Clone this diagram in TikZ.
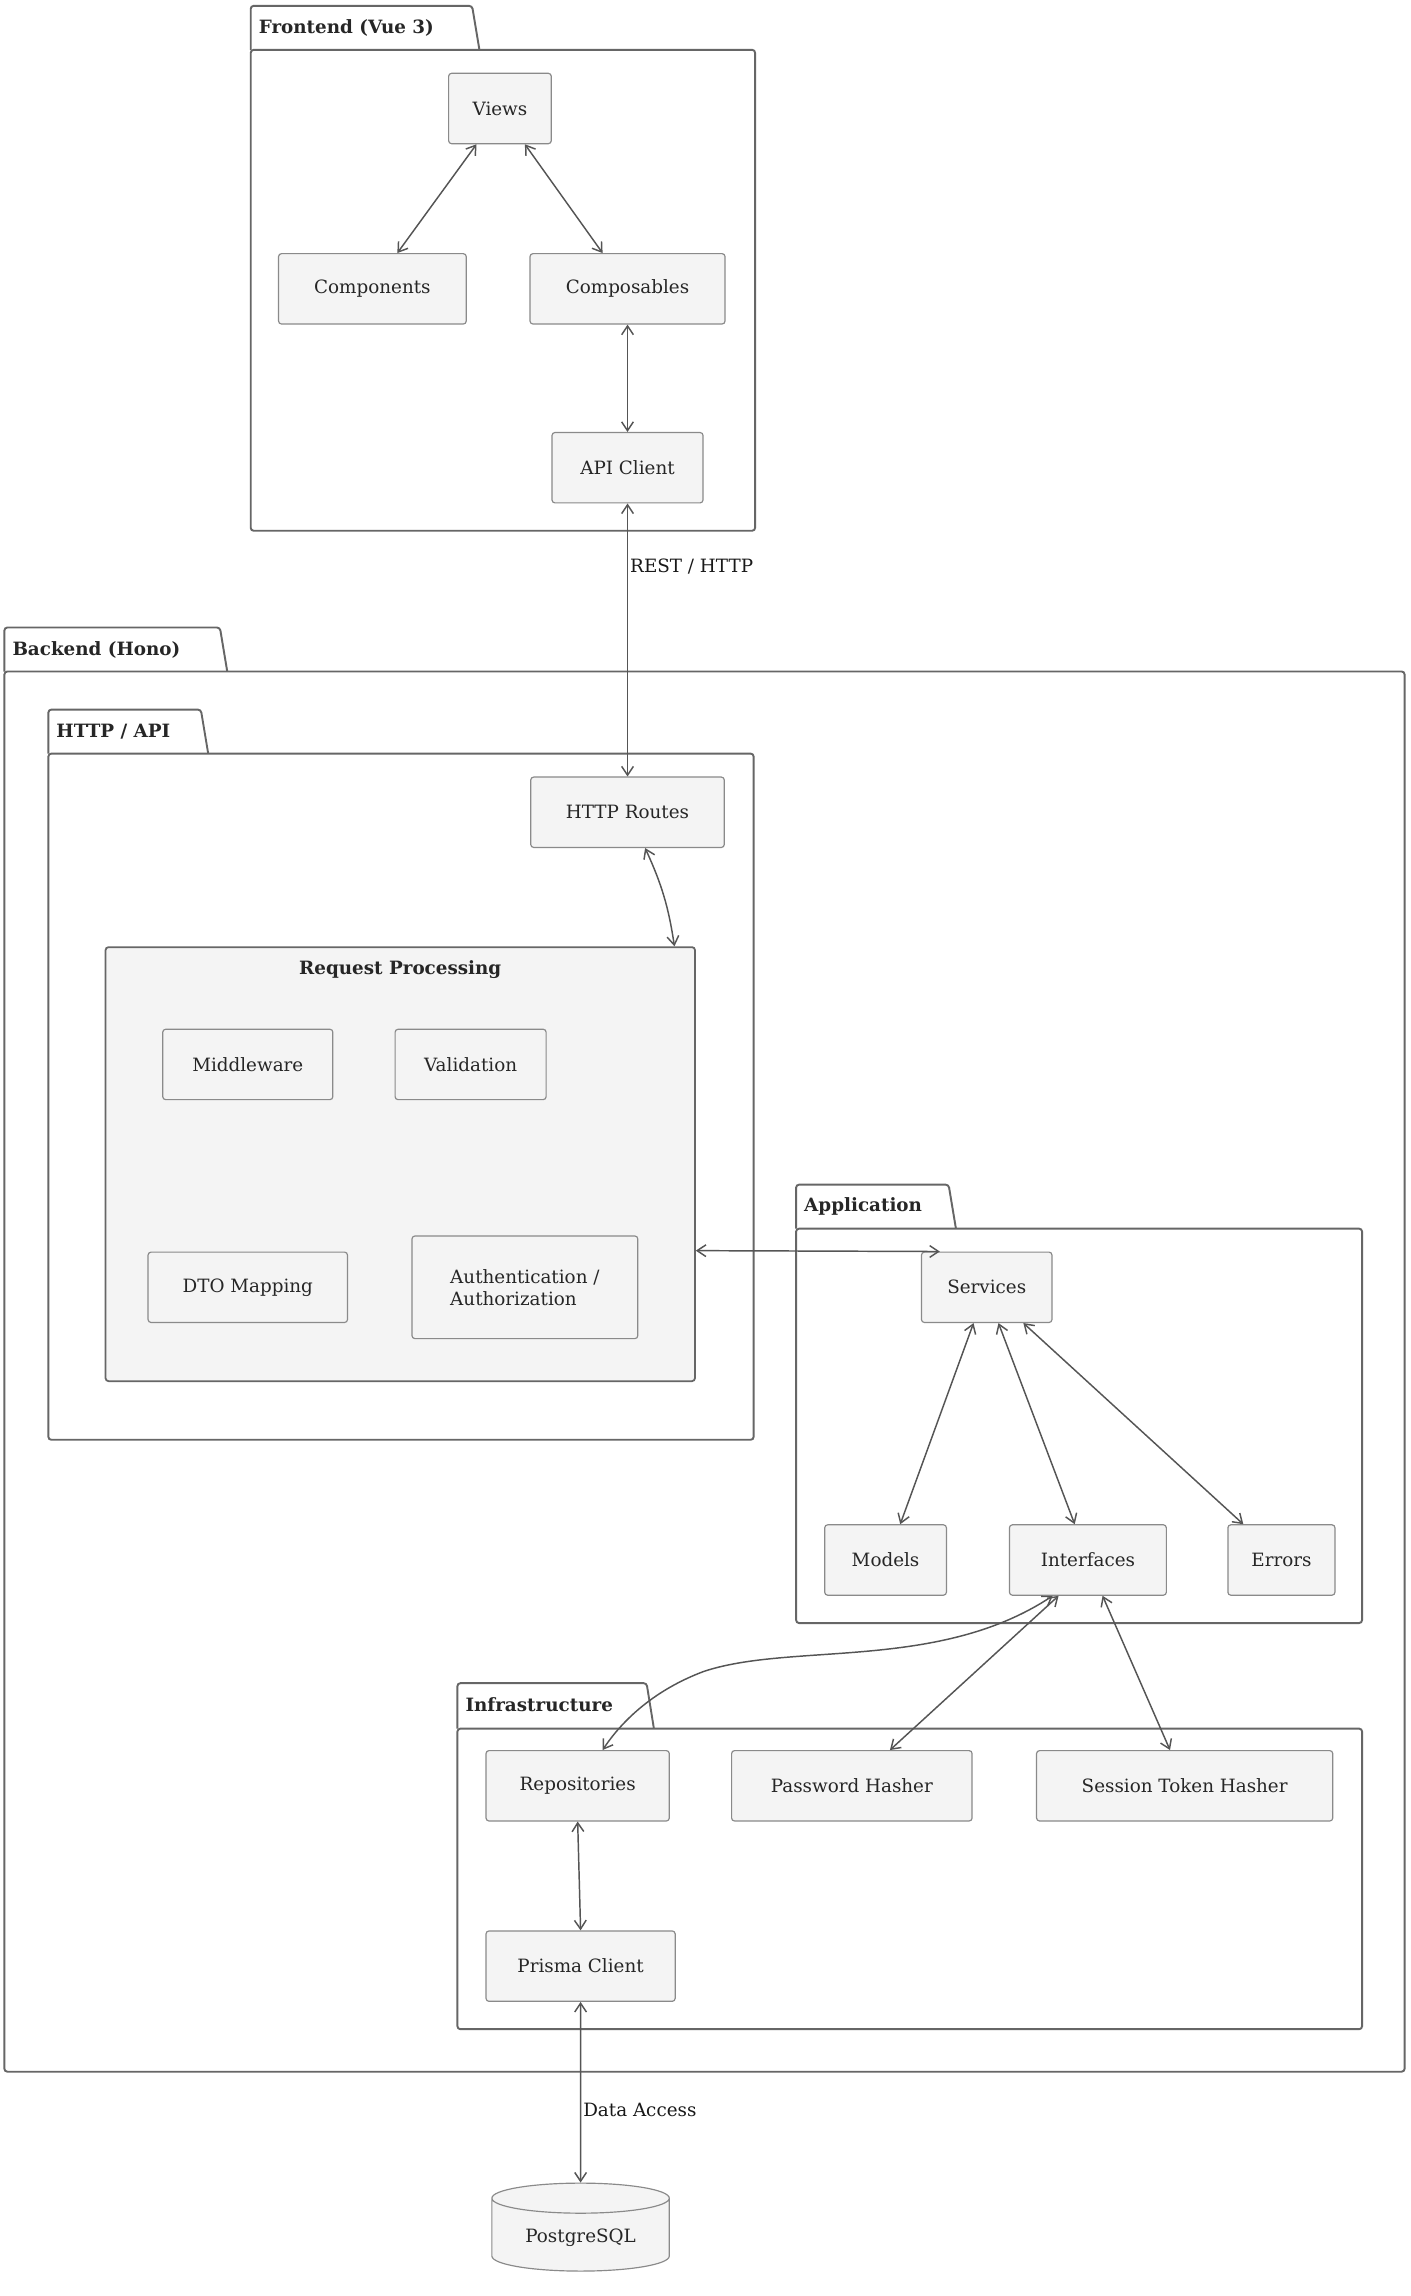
\documentclass[tikz,border=0pt]{standalone}
\usepackage{fontspec}
\setmainfont{DejaVu Serif}
\usetikzlibrary{arrows.meta,shapes.geometric}
\definecolor{bd}{HTML}{666666}
\definecolor{nf}{HTML}{F4F4F4}
\definecolor{nd}{HTML}{8A8A8A}
\definecolor{ar}{HTML}{555555}
\tikzset{
  box/.style={draw=nd,fill=nf,rounded corners=2pt,minimum height=48pt,inner xsep=6pt,font=\fontsize{12.5}{15}\selectfont,text=black!85,line width=0.8pt},
  pkg/.style={draw=bd,line width=1.3pt,rounded corners=2pt},
  pkgtitle/.style={font=\bfseries\fontsize{12.5}{15}\selectfont,anchor=west,text=black!85},
  link/.style={draw=ar,line width=1pt,{Straight Barb[length=6pt,width=8pt]}-{Straight Barb[length=6pt,width=8pt]}},
  lbl/.style={font=\fontsize{12.5}{15}\selectfont,anchor=west,text=black!90}
}
\begin{document}
\begin{tikzpicture}[x=1pt,y=-1pt]
\useasboundingbox[fill=white] (0,0) rectangle (962,1566);
% packages
\newcommand{\mypkg}[6]{%
 \draw[pkg] (#1,#3) -- (#1,#2) -- (#4-5,#2) -- (#4,#3);
 \draw[pkg] (#1,#3) rectangle (#5,#6);}
\mypkg{171}{4}{34}{327}{515}{362}
\node[pkgtitle] at (173,19) {Frontend (Vue 3)};
\mypkg{3}{428}{458}{155}{958}{1413}
\node[pkgtitle] at (5,443) {Backend (Hono)};
\mypkg{33}{484}{514}{142}{514}{982}
\node[pkgtitle] at (35,499) {HTTP / API};
\mypkg{543}{808}{838}{652}{929}{1107}
\node[pkgtitle] at (545,823) {Application};
\mypkg{312}{1148}{1179}{446}{929}{1384}
\node[pkgtitle] at (314,1163) {Infrastructure};
% request processing
\node[draw=bd,fill=nf,line width=1.2pt,rounded corners=2pt,minimum width=402pt,minimum height=296pt] (rp) at (273,794) {};
\node[font=\bfseries\fontsize{12.5}{15}\selectfont,text=black!85] at (273,661) {Request Processing};
% nodes
\node[box,minimum width=70pt] (views) at (341,74) {Views};
\node[box,minimum width=128pt] (comp) at (254,197) {Components};
\node[box,minimum width=133pt] (cmps) at (428,197) {Composables};
\node[box,minimum width=103pt] (api) at (428,319) {API Client};
\node[box,minimum width=132pt] (routes) at (428,554) {HTTP Routes};
\node[box,minimum width=116pt] (mw) at (169,726) {Middleware};
\node[box,minimum width=103pt] (val) at (321,726) {Validation};
\node[box,minimum width=136pt] (dto) at (169,878) {DTO Mapping};
\node[box,minimum width=154pt,minimum height=70pt,align=left] (auth) at (358,878) {Authentication /\\Authorization};
\node[box,minimum width=89pt] (svc) at (673,878) {Services};
\node[box,minimum width=83pt] (models) at (604,1064) {Models};
\node[box,minimum width=107pt] (intf) at (742,1064) {Interfaces};
\node[box,minimum width=73pt] (err) at (874,1064) {Errors};
\node[box,minimum width=125pt] (repo) at (394,1218) {Repositories};
\node[box,minimum width=164pt] (pw) at (581,1218) {Password Hasher};
\node[box,minimum width=202pt] (sth) at (808,1218) {Session Token Hasher};
\node[box,minimum width=129pt] (prisma) at (396,1341) {Prisma Client};
\node[cylinder,shape border rotate=90,aspect=0.25,draw=nd,fill=nf,line width=0.8pt,minimum width=121pt,minimum height=60pt,font=\fontsize{12.5}{15}\selectfont,text=black!85] (pg) at (396,1526) {\raisebox{-10pt}{PostgreSQL}};
% links
\draw[link] ([xshift=-16pt]views.south) -- ([xshift=17pt]comp.north);
\draw[link] ([xshift=17pt]views.south) -- ([xshift=-17pt]cmps.north);
\draw[link] (cmps.south) -- (api.north);
\draw[link] (api.south) -- node[lbl,pos=0.23,right=-2pt] {REST / HTTP} (routes.north);
\draw[link] ([xshift=12pt]routes.south) to[bend left=8] ([xshift=187pt]rp.north);
\draw[link] ([yshift=-59pt]rp.east) -- ([xshift=-32pt]svc.north);
\draw[link] ([xshift=-9pt]svc.south) -- ([xshift=10pt]models.north);
\draw[link] ([xshift=8pt]svc.south) -- ([xshift=-9pt]intf.north);
\draw[link] ([xshift=25pt]svc.south) -- ([xshift=-26pt]err.north);
\draw[link] ([xshift=-24pt]intf.south) .. controls (640,1140) and (540,1120) .. (480,1140) .. controls (440,1155) and (420,1180) .. ([xshift=17pt]repo.north);
\draw[link] ([xshift=-20pt]intf.south) -- ([xshift=26pt]pw.north);
\draw[link] ([xshift=10pt]intf.south) -- ([xshift=-10pt]sth.north);
\draw[link] (repo.south) -- (prisma.north);
\draw[link] (prisma.south) -- node[lbl,pos=0.6,right=-2pt] {Data Access} (pg.north);
\end{tikzpicture}
\end{document}
